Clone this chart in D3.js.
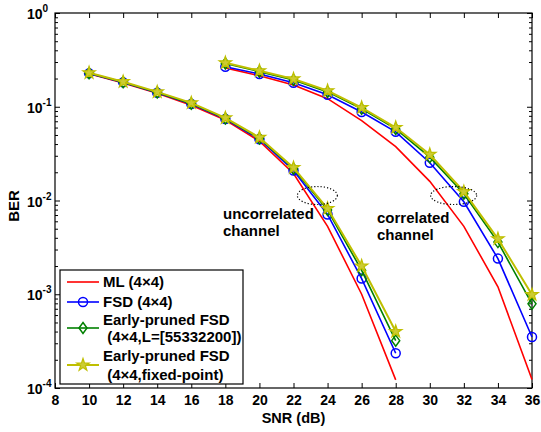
<!DOCTYPE html>
<html>
<head>
<meta charset="utf-8">
<script src="https://cdn.jsdelivr.net/npm/d3@7"></script>
<style>
  body { margin: 0; background: #fff; }
  text { font-family: Arial, "Liberation Sans", sans-serif; font-weight: bold; }
</style>
</head>
<body>
<div id="my_dataviz"></div>
<script>
// SNR points
var snrUncorr = [10, 12, 14, 16, 18, 20, 22, 24, 26, 28];
var snrCorr = [18, 20, 22, 24, 26, 28, 30, 32, 34, 36];

// BER values, uncorrelated channel
var mlUncorr = [0.225, 0.179, 0.139, 0.104, 0.072, 0.043, 0.0194, 0.0053, 0.0010, 0.000122];
var fsdUncorr = [0.227, 0.182, 0.141, 0.107, 0.074, 0.045, 0.0209, 0.0071, 0.00147, 0.000235];
var epUncorr = [0.228, 0.183, 0.142, 0.108, 0.075, 0.046, 0.0218, 0.0079, 0.0018, 0.00032];
var fixUncorr = [0.230, 0.185, 0.144, 0.110, 0.076, 0.047, 0.0224, 0.0082, 0.0020, 0.00040];

// correlated channel
var mlCorr = [0.26, 0.214, 0.171, 0.122, 0.071, 0.0375, 0.0160, 0.0053, 0.0012, 0.000123];
var fsdCorr = [0.267, 0.224, 0.18, 0.134, 0.088, 0.054, 0.0253, 0.0097, 0.0024, 0.00035];
var epCorr = [0.29, 0.237, 0.193, 0.144, 0.095, 0.058, 0.029, 0.0118, 0.0036, 0.00079];
var fixCorr = [0.294, 0.242, 0.198, 0.148, 0.098, 0.060, 0.031, 0.0124, 0.0039, 0.00099];

var xTicks = [8, 10, 12, 14, 16, 18, 20, 22, 24, 26, 28, 30, 32, 34, 36];
var yTicks = [1e-4, 1e-3, 1e-2, 1e-1, 1];
var yTickExp = ["-4", "-3", "-2", "-1", "0"];

var legendNames = [["ML (4\u00d74)"], ["FSD (4\u00d74)"], ["Early-pruned FSD", " (4\u00d74,L=[55332200])"], ["Early-pruned FSD", " (4\u00d74,fixed-point)"]];
var notes = [["uncorrelated", "channel"], ["correlated", "channel"]];
var noteSnr = [23.4, 31.4];

var series = [
  {name: "ML", color: "#ff0000", marker: "none", uncorr: mlUncorr, corr: mlCorr},
  {name: "FSD", color: "#0000ff", marker: "circle", uncorr: fsdUncorr, corr: fsdCorr},
  {name: "EP", color: "#008000", marker: "diamond", uncorr: epUncorr, corr: epCorr},
  {name: "FIX", color: "#bfbf00", marker: "star", uncorr: fixUncorr, corr: fixCorr}
];

var W = 541, H = 432;
var margin = {top: 13, right: 9, bottom: 44, left: 55};

var svg = d3.select("#my_dataviz")
  .append("svg")
    .attr("width", W)
    .attr("height", H);

var x = d3.scaleLinear().domain([8, 36]).range([margin.left, W - margin.right]);
var y = d3.scaleLog().domain([1e-4, 1]).range([H - margin.bottom, margin.top]);

// minor ticks for log axis
var yMinor = [];
yTicks.slice(0, 4).forEach(function(t) {
  for (var k = 2; k <= 9; k++) yMinor.push(t * k);
});

function styleAxis(g) {
  g.select(".domain").remove();
  g.selectAll("line").attr("stroke", "#000").attr("stroke-width", 1);
}

// x axis bottom
svg.append("g")
  .attr("transform", "translate(0," + y(1e-4) + ")")
  .call(d3.axisBottom(x).tickValues(xTicks).tickSize(-5).tickPadding(7).tickFormat(d3.format("d")))
  .call(styleAxis)
  .selectAll("text")
    .attr("fill", "#000")
    .style("font-size", "14px");

// x axis top
svg.append("g")
  .attr("transform", "translate(0," + y(1) + ")")
  .call(d3.axisTop(x).tickValues(xTicks).tickSize(-5).tickFormat(""))
  .call(styleAxis);

// y axes, major + minor, both sides
svg.append("g")
  .attr("transform", "translate(" + x(8) + ",0)")
  .call(d3.axisLeft(y).tickValues(yTicks).tickSize(-5).tickFormat(""))
  .call(styleAxis);
svg.append("g")
  .attr("transform", "translate(" + x(8) + ",0)")
  .call(d3.axisLeft(y).tickValues(yMinor).tickSize(-3).tickFormat(""))
  .call(styleAxis);
svg.append("g")
  .attr("transform", "translate(" + x(36) + ",0)")
  .call(d3.axisRight(y).tickValues(yTicks).tickSize(-5).tickFormat(""))
  .call(styleAxis);
svg.append("g")
  .attr("transform", "translate(" + x(36) + ",0)")
  .call(d3.axisRight(y).tickValues(yMinor).tickSize(-3).tickFormat(""))
  .call(styleAxis);

// y tick labels 10^n
yTicks.forEach(function(t, i) {
  var lab = svg.append("text")
    .attr("x", 27)
    .attr("y", y(t) + 6)
    .style("font-size", "14px");
  lab.append("tspan").text("10");
  lab.append("tspan").attr("dy", -7).style("font-size", "10px").text(yTickExp[i]);
});

// box
svg.append("rect")
  .attr("x", x(8))
  .attr("y", y(1))
  .attr("width", x(36) - x(8))
  .attr("height", y(1e-4) - y(1))
  .attr("fill", "none")
  .attr("stroke", "#000")
  .attr("stroke-width", 1.2);

// axis titles
svg.append("text")
  .attr("x", (x(8) + x(36)) / 2)
  .attr("y", 423)
  .attr("text-anchor", "middle")
  .style("font-size", "14.5px")
  .text("SNR (dB)");

svg.append("text")
  .attr("transform", "translate(19," + 206 + ")rotate(-90)")
  .attr("text-anchor", "middle")
  .style("font-size", "15px")
  .text("BER");

// markers
var star = d3.symbol().type(d3.symbolStar).size(48);
var diamond = "M0,-5.5L4,0L0,5.5L-4,0Z";

function drawMarker(g, s, cx, cy) {
  if (s.marker == "circle") {
    g.append("circle").attr("cx", cx).attr("cy", cy).attr("r", 4.5)
      .attr("fill", "none").attr("stroke", s.color).attr("stroke-width", 1.5);
  } else if (s.marker == "diamond") {
    g.append("path").attr("d", diamond).attr("transform", "translate(" + cx + "," + cy + ")")
      .attr("fill", "none").attr("stroke", s.color).attr("stroke-width", 1.5);
  } else if (s.marker == "star") {
    g.append("path").attr("d", star()).attr("transform", "translate(" + cx + "," + cy + ")")
      .attr("fill", "#cccc33").attr("stroke", s.color).attr("stroke-width", 1.2);
  }
}

var line = d3.line()
  .x(function(d) { return x(d[0]); })
  .y(function(d) { return y(d[1]); });

var plot = svg.append("g");
series.forEach(function(s) {
  [[snrUncorr, s.uncorr], [snrCorr, s.corr]].forEach(function(pair) {
    var pts = pair[0].map(function(v, i) { return [v, pair[1][i]]; });
    plot.append("path")
      .datum(pts)
      .attr("d", line)
      .attr("fill", "none")
      .attr("stroke", s.color)
      .attr("stroke-width", s.marker == "star" ? 2 : 1.6);
    pts.forEach(function(p) { drawMarker(plot, s, x(p[0]), y(p[1])); });
  });
});

// dotted ellipses
noteSnr.forEach(function(v, i) {
  svg.append("ellipse")
    .attr("cx", x(v))
    .attr("cy", y(0.0113))
    .attr("rx", i == 0 ? 20 : 23)
    .attr("ry", 9)
    .attr("fill", "none")
    .attr("stroke", "#000")
    .attr("stroke-width", 1.2)
    .attr("stroke-dasharray", "1.2,2");
});

// annotations
var noteX = [223, 377], noteY = [219, 223];
notes.forEach(function(n, i) {
  n.forEach(function(t, j) {
    svg.append("text")
      .attr("x", noteX[i])
      .attr("y", noteY[i] + j * 17)
      .style("font-size", "15px")
      .text(t);
  });
});

// legend
var legend = svg.append("g");
legend.append("rect")
  .attr("x", 60).attr("y", 270)
  .attr("width", 183).attr("height", 114)
  .attr("fill", "#fff").attr("stroke", "#000").attr("stroke-width", 1.2);

var legLineY = [282, 302, 328, 365];
var legTextY = [[287], [307], [325, 342], [361, 380]];
series.forEach(function(s, i) {
  legend.append("line")
    .attr("x1", 67).attr("x2", 99)
    .attr("y1", legLineY[i]).attr("y2", legLineY[i])
    .attr("stroke", s.color).attr("stroke-width", s.marker == "star" ? 2 : 1.6);
  drawMarker(legend, s, 83, legLineY[i]);
  legendNames[i].forEach(function(t, j) {
    legend.append("text")
      .attr("x", 103)
      .attr("y", legTextY[i][j])
      .style("font-size", "15px")
      .style("white-space", "pre")
      .text(t);
  });
});
</script>
</body>
</html>
